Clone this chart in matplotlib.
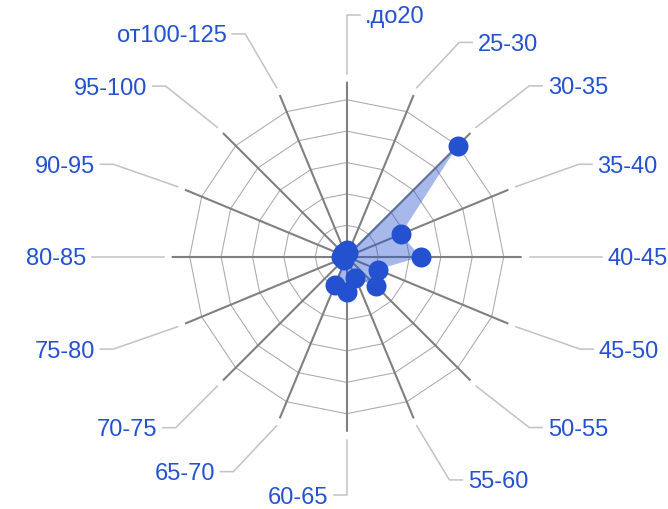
import numpy as np
import matplotlib.pyplot as plt

# Данные радара (16 групп)
categories = ['.до20', '25-30', '30-35', '35-40', '40-45', '45-50', '50-55', '55-60',
              '60-65', '65-70', '70-75', '75-80', '80-85', '90-95', '95-100', 'от100-125']
values = [2.2, 1.3, 50, 18.6, 23.6, 10.7, 13.4, 7.3,
          11.3, 9.9, 1.3, 1.3, 1.8, 1.6, 1.6, 1.6]
ring_values = [10, 20, 30, 40, 50]

# Разметка в пикселях
W, H = 668, 509
CX, CY = 346.7, 252.3      # центр (от левого нижнего угла)
R_RING = 157               # радиус внешнего кольца
R_SPOKE = 175              # длина лучей
R_LEAD0 = 183              # начало выносных линий
# излом выносной линии: (угол, радиус)
elbows = [(0, 241.7), (27.7, 242), (46.9, 250), (68.3, 250), (90, 242), (111.6, 251),
          (133.1, 250), (155.3, 245.7), (180, 238.5), (207.8, 243), (225, 241.8),
          (248.4, 251), (270, 242), (291.6, 251), (313.3, 248.8), (335.5, 244.8)]

blue = '#2451cf'

fig = plt.figure(figsize=(W / 100, H / 100), dpi=100)
rect = [(CX - R_SPOKE) / W, (CY - R_SPOKE) / H, 2 * R_SPOKE / W, 2 * R_SPOKE / H]

ax = fig.add_axes(rect, projection='polar')
ax.set_theta_zero_location('N')
ax.set_theta_direction(-1)
rtop = ring_values[-1] * R_SPOKE / R_RING
ax.set_ylim(0, rtop)
ax.axis('off')

theta = np.deg2rad(np.arange(len(categories)) * 360 / len(categories))
closed = np.append(theta, theta[0])

# кольца-многоугольники
for v in ring_values:
    ax.plot(closed, [v] * len(closed), color='#a9a9a9', lw=0.75, zorder=1)
# лучи
for t in theta:
    ax.plot([t, t], [0, rtop], color='#808080', lw=1.5, zorder=2)

# серия
ax.fill(closed, np.append(values, values[0]), color=blue, alpha=0.4, lw=0, zorder=3)
ax.plot(theta, values, 'o', ms=14.4, color=blue, mec=blue, mew=0, zorder=4)

# подписи с выносными линиями
lx = fig.add_axes(rect, facecolor='none')
lx.set_xlim(-R_SPOKE, R_SPOKE)
lx.set_ylim(-R_SPOKE, R_SPOKE)
lx.axis('off')

for i, label in enumerate(categories):
    a = np.deg2rad(i * 360 / len(categories))
    sx, sy = R_LEAD0 * np.sin(a), R_LEAD0 * np.cos(a)
    ed, er = elbows[i]
    ex, ey = er * np.sin(np.deg2rad(ed)), er * np.cos(np.deg2rad(ed))
    side = 1 if i * 360 / len(categories) < 180 else -1
    lx.plot([sx, ex, ex + 13 * side], [sy, ey, ey], color='#c2c2c2', lw=1.1,
            clip_on=False)
    lx.text(ex + 18.5 * side, ey, label, ha='left' if side > 0 else 'right',
            va='center_baseline', fontsize=17, color=blue, family='Liberation Sans',
            clip_on=False)

fig.savefig('out.png', dpi=100)
